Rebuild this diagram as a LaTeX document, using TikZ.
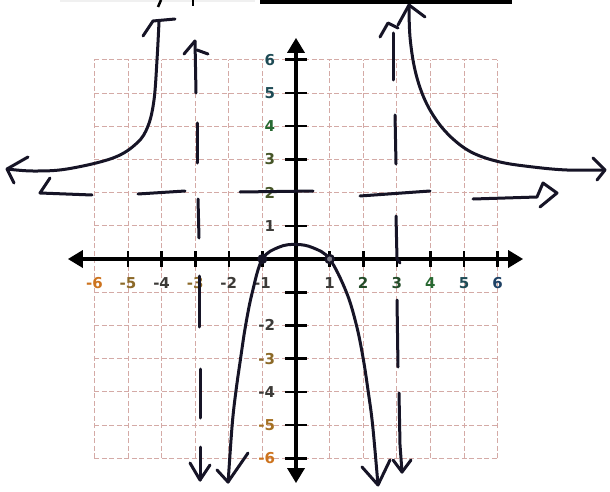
\documentclass[tikz,border=0pt]{standalone}
\usepackage{fontspec}
\newfontfamily\labfont{DejaVu Sans}
\usetikzlibrary{arrows.meta}
\definecolor{ink}{RGB}{22,20,38}
\definecolor{gridc}{RGB}{212,170,166}
\definecolor{orng}{RGB}{205,115,30}
\definecolor{brn}{RGB}{140,105,40}
\definecolor{brnb}{RGB}{165,112,35}
\definecolor{dgray}{RGB}{60,58,55}
\definecolor{dgreen}{RGB}{35,75,40}
\definecolor{mgreen}{RGB}{40,105,50}
\definecolor{olv}{RGB}{70,85,40}
\definecolor{teal}{RGB}{30,75,85}
\definecolor{dblue}{RGB}{30,65,100}
\begin{document}
\begin{tikzpicture}[x=1pt,y=-1pt,
  inkline/.style={draw=ink, line width=3pt, line cap=round, line join=round},
  axisline/.style={draw=black, line width=3.4pt},
  tickline/.style={draw=black, line width=2.6pt},
  gridline/.style={draw=gridc, line width=0.9pt, dash pattern=on 5pt off 2.5pt},
  lab/.style={font=\labfont\bfseries\fontsize{15}{18}\selectfont, inner sep=0pt}]
\fill[white] (0,0) rectangle (610,492);
\useasboundingbox (0,0) rectangle (610,492);

\begin{scope}[shift={(296,259)}, x=33.6pt, y=33.2pt]
  % grid
  \foreach \k in {-6,...,6} {
    \draw[gridline] (\k,-6) -- (\k,6);
    \draw[gridline] (-6,\k) -- (6,\k);
  }
  % axes
  \coordinate (xl) at (-6.79,0);
  \coordinate (xr) at (6.76,0);
  \coordinate (yb) at (0,-6.75);
  \coordinate (yt) at (0,6.66);
  \draw[axisline, {Triangle[length=15pt,width=17pt]}-{Triangle[length=15pt,width=17pt]}] (xl) -- (xr);
  \draw[axisline, {Triangle[length=15pt,width=17pt]}-{Triangle[length=15pt,width=17pt]}] (yb) -- (yt);
  % ticks
  \foreach \i in {-5,-4,-3,-2,-1,1,2,3,4,5,6}
    \draw[tickline] (\i,-0.24) -- (\i,0.24);
  \foreach \j in {-6,-5,-4,-3,-2,-1,1,3,4,5,6}
    \draw[tickline] (-0.33,\j) -- (0.33,\j);
  % x labels
  \foreach \i/\c in {-6/orng,-5/brn,-4/dgray,-3/brn,-2/dgray,-1/dgray,1/dgray,2/dgreen,3/dgreen,4/mgreen,5/teal,6/dblue}
    \node[lab, text=\c] (xlab\i) at (\i,-0.72) {\i};
  % y labels
  \foreach \j/\c in {6/teal,5/teal,4/mgreen,3/olv,2/olv,1/dgray,-2/dgray,-3/brn,-4/dgray,-5/brnb,-6/orng}
    \node[lab, text=\c, anchor=east] (ylab\j) at (-0.62,\j) {\j};
  % parabola-like curve
  \draw[inkline] plot[smooth, tension=0.6] coordinates {(-2.02,-6.72) (-1.9,-5) (-1.79,-4) (-1.65,-3) (-1.5,-2) (-1.3,-1) (-1,0) (-0.5,0.36) (0,0.44) (0.5,0.34) (1,0) (1.5,-1) (1.8,-2) (2.0,-3) (2.15,-4) (2.28,-5) (2.44,-6.8)};
  % points
  \fill[ink] (-1,0) circle (5pt);
  \draw[ink, line width=2.4pt, fill=ink!55] (1,0) circle (4pt);
\end{scope}

% parabola arrow barbs
\draw[inkline] (217,470) -- (228,482) -- (248,453);
\draw[inkline] (362,467) -- (378,485) -- (390,460);

% left branch
\draw[inkline] plot[smooth, tension=0.6] coordinates {(159,22) (157,60) (154,100) (148,126) (137,143) (113,158) (67,169) (33,171) (7,169)};
\draw[inkline] (28,157) -- (7,169) -- (14,183);
\draw[inkline] (143,36) -- (153,21) -- (175,19);

% right branch
\draw[inkline] plot[smooth, tension=0.6] coordinates {(409,5) (410,37) (415,70) (424,98) (437,121) (453,139) (473,153) (500,162) (533,167) (567,170) (605,170)};
\draw[inkline] (398,25) -- (409,5) -- (425,17);
\draw[inkline] (593,158) -- (605,170) -- (597,180);

% vertical asymptote x = -3
\draw[inkline] (195,41) -- (196,93);
\draw[inkline] (184,54) -- (195,41);
\draw[inkline] (197,50) -- (208,54);
\draw[inkline] (197,123) -- (197,163);
\draw[inkline] (198,199) -- (199,238);
\draw[inkline] (199,276) -- (199,327);
\draw[inkline] (200,369) -- (200,418);
\draw[inkline] (200,447) -- (200,480);
\draw[inkline] (190,463) -- (200,480) -- (210,465);

% vertical asymptote x = 3
\draw[inkline] (380,37) -- (388,23) -- (398,28);
\draw[inkline] (393,33) -- (393,80);
\draw[inkline] (395,115) -- (396,164);
\draw[inkline] (396,216) -- (397,259) -- (400,263);
\draw[inkline] (397,300) -- (398,367);
\draw[inkline] (399,393) -- (400,445) -- (402,472);
\draw[inkline] (393,460) -- (402,472) -- (411,460);

% horizontal asymptote y = 2
\draw[inkline] (50,178) -- (40,193) -- (92,195);
\draw[inkline] (138,194) -- (185,191);
\draw[inkline] (240,192) -- (313,191);
\draw[inkline] (360,196) -- (430,191);
\draw[inkline] (473,199) -- (537,197) -- (543,183) -- (557,193) -- (540,207);

% top fragments
\draw[gray!12, line width=1.5pt] (60,1) -- (255,1);
\draw[black, line width=3.5pt] (260,2) -- (512,2);
\draw[black, line width=2.5pt] (161,0) -- (158,7);
\draw[black, line width=2.5pt] (193,0) -- (193,6);
\end{tikzpicture}
\end{document}
